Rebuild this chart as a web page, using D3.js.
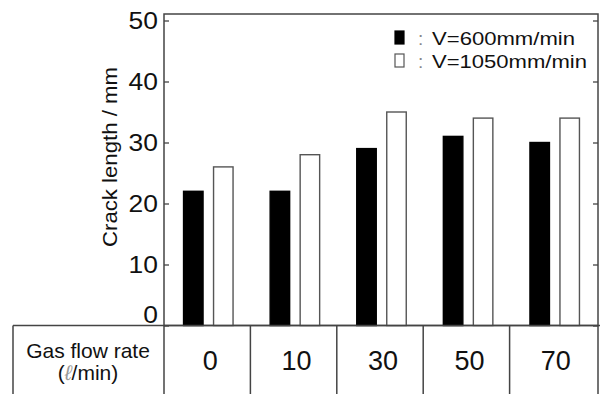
<!DOCTYPE html>
<html>
<head>
<meta charset="utf-8">
<script src="https://cdn.jsdelivr.net/npm/d3@7"></script>
<style>
  body { margin: 0; background: #fff; }
  text { font-family: "Liberation Sans", Arial, sans-serif; fill: #111; }
</style>
</head>
<body>
<div id="chart"></div>
<script>
// data
const flowRates = ["0", "10", "30", "50", "70"];
const seriesNames = ["V=600mm/min", "V=1050mm/min"];
const crack600 = [22, 22, 29, 31, 30];
const crack1050 = [26, 28, 35, 34, 34];
const yTicks = [0, 10, 20, 30, 40, 50];

const W = 604, H = 394;
const margin = {top: 14, right: 6, bottom: 68.5, left: 164};

const svg = d3.select("#chart").append("svg")
    .attr("width", W).attr("height", H);

const plotW = W - margin.left - margin.right;
const plotH = H - margin.top - margin.bottom;

// range so that 50 sits a little under the frame top
const x = d3.scaleBand().domain(flowRates).range([margin.left + 1, margin.left + plotW]);
const y = d3.scaleLinear().domain([0, 50]).range([H - margin.bottom, 20.5]);
const xs = d3.scaleBand().domain(seriesNames).range([-24.75, 24.75]).paddingInner(0.35);

const lineCol = "#444";

// frame
svg.append("rect")
    .attr("x", margin.left).attr("y", margin.top)
    .attr("width", plotW).attr("height", plotH)
    .attr("fill", "none").attr("stroke", lineCol).attr("stroke-width", 1.5);

// left axis, ticks pointing in
const yAxisL = svg.append("g")
    .attr("transform", "translate(" + margin.left + ",0)")
    .call(d3.axisRight(y).tickValues(yTicks).tickSize(5).tickFormat(""));
yAxisL.select(".domain").remove();
yAxisL.selectAll("line").attr("stroke", lineCol).attr("stroke-width", 1.3);

const yAxisR = svg.append("g")
    .attr("transform", "translate(" + (margin.left + plotW) + ",0)")
    .call(d3.axisLeft(y).tickValues(yTicks).tickSize(5).tickFormat(""));
yAxisR.select(".domain").remove();
yAxisR.selectAll("line").attr("stroke", lineCol).attr("stroke-width", 1.3);

// tick labels
svg.append("g").selectAll("text")
    .data(yTicks).join("text")
    .attr("x", 158)
    .attr("y", d => d === 0 ? y(d) - 2 : y(d) + 8.8)
    .attr("text-anchor", "end")
    .style("font-size", "24px")
    .attr("transform", d => "translate(158,0) scale(1.1,1) translate(-158,0)")
    .text(d => d);

// axis title
svg.append("text")
    .attr("transform", "translate(117," + 157 + ") rotate(-90)")
    .attr("text-anchor", "middle")
    .style("font-size", "21px")
    .attr("textLength", 180).attr("lengthAdjust", "spacingAndGlyphs")
    .text("Crack length / mm");

// bars
const rows = flowRates.map((f, i) => ({rate: f, vals: [crack600[i], crack1050[i]]}));
const groups = svg.append("g").selectAll("g")
    .data(rows).join("g")
    .attr("transform", d => "translate(" + (x(d.rate) + x.bandwidth() / 2) + ",0)");

groups.selectAll("rect")
    .data(d => d.vals.map((v, j) => ({s: seriesNames[j], v: v, j: j})))
    .join("rect")
    .attr("x", d => xs(d.s))
    .attr("width", xs.bandwidth())
    .attr("y", d => y(d.v))
    .attr("height", d => y(0) - y(d.v))
    .attr("fill", d => d.j === 0 ? "#000" : "#fff")
    .attr("stroke", d => d.j === 0 ? "#000" : "#555")
    .attr("stroke-width", 1.4);

// legend
const legend = svg.append("g");
seriesNames.forEach((name, j) => {
    const by = 31 + j * 23;
    legend.append("rect")
        .attr("x", 395).attr("y", by)
        .attr("width", 9).attr("height", 13)
        .attr("fill", j === 0 ? "#000" : "#fff")
        .attr("stroke", j === 0 ? "#000" : "#555").attr("stroke-width", 1.2);
    legend.append("text")
        .attr("x", 418).attr("y", by + 14)
        .style("font-size", "19px").style("fill", "#888")
        .text(":");
    legend.append("text")
        .attr("x", 432).attr("y", by + 14)
        .style("font-size", "19px")
        .attr("textLength", j === 0 ? 143 : 155).attr("lengthAdjust", "spacingAndGlyphs")
        .text(name);
});

// table under the chart
const tableTop = y(0);
const tx = d3.scaleBand().domain(flowRates).range([margin.left, margin.left + plotW - 2]);
const table = svg.append("g");
table.append("line")
    .attr("x1", 13).attr("x2", W - 4)
    .attr("y1", tableTop).attr("y2", tableTop)
    .attr("stroke", lineCol).attr("stroke-width", 1.5);
const edges = [13].concat(flowRates.map(f => tx(f))).concat([margin.left + plotW]);
table.selectAll("line.v")
    .data(edges).join("line")
    .attr("class", "v")
    .attr("x1", d => d).attr("x2", d => d)
    .attr("y1", tableTop).attr("y2", H)
    .attr("stroke", lineCol).attr("stroke-width", 1.5);

table.selectAll("text.val")
    .data(flowRates).join("text")
    .attr("class", "val")
    .attr("x", d => tx(d) + tx.bandwidth() / 2 + 3)
    .attr("y", 370)
    .attr("text-anchor", "middle")
    .style("font-size", "27px")
    .text(d => d);

table.append("text")
    .attr("x", 88).attr("y", 358)
    .attr("text-anchor", "middle")
    .style("font-size", "21px")
    .text("Gas flow rate");
const unit = table.append("text")
    .attr("x", 88).attr("y", 380)
    .attr("text-anchor", "middle")
    .style("font-size", "21px");
unit.append("tspan").text("(");
unit.append("tspan").style("fill", "#999").style("font-style", "italic").text("ℓ");
unit.append("tspan").text("/min)");
</script>
</body>
</html>
